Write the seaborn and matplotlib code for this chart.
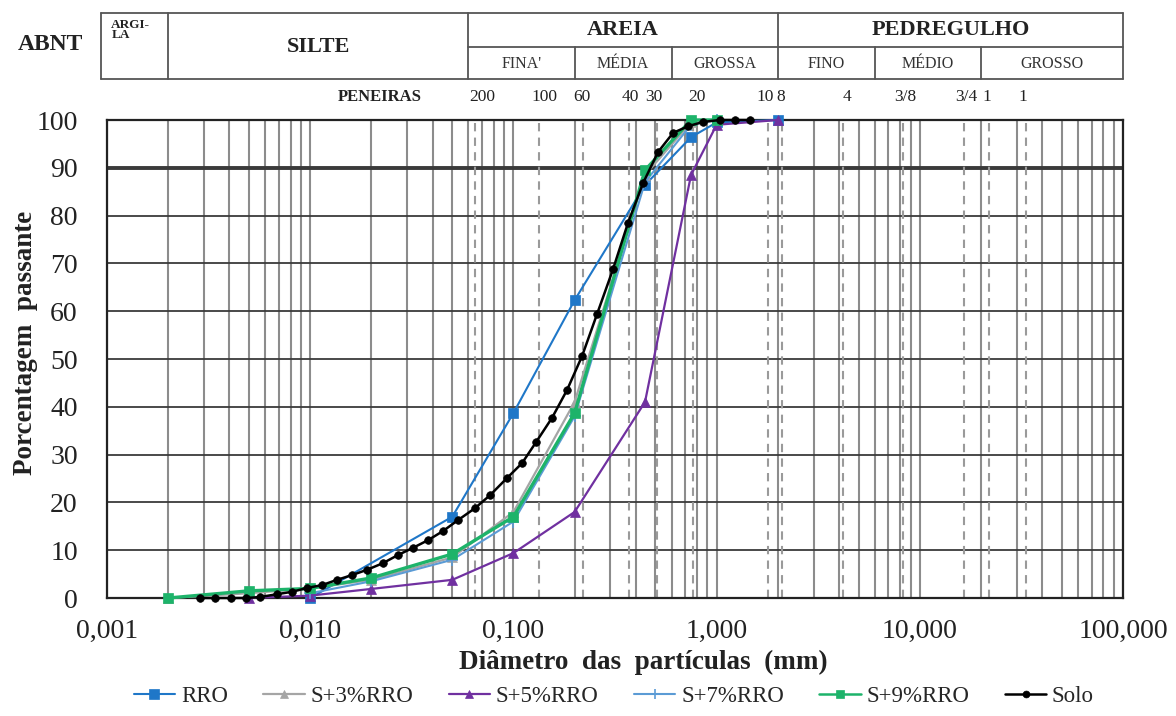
import numpy as np
import pandas as pd
import matplotlib
matplotlib.use("Agg")
import matplotlib.pyplot as plt
import seaborn as sns
from matplotlib.transforms import blended_transform_factory
from matplotlib.ticker import FixedLocator, FuncFormatter, LogLocator, NullFormatter
from matplotlib.lines import Line2D

# ---------------- data ----------------
series_names = ["RRO", "S+3%RRO", "S+5%RRO", "S+7%RRO", "S+9%RRO", "Solo"]

rro_d = [0.01, 0.05, 0.1, 0.2, 0.444, 0.748, 1.0, 2.0]
rro_p = [0, 17.0, 38.7, 62.3, 86.4, 96.4, 99.5, 100]

s3_d = [0.002, 0.005, 0.01, 0.02, 0.05, 0.1, 0.2, 0.444, 0.748, 1.0]
s3_p = [0, 1.0, 2.0, 3.8, 8.5, 18.0, 41.0, 88.5, 99.5, 100]

s5_d = [0.005, 0.01, 0.02, 0.05, 0.1, 0.2, 0.444, 0.748, 1.0, 2.0]
s5_p = [0, 0.5, 1.9, 3.8, 9.4, 18.0, 41.0, 88.5, 99.0, 100]

s7_d = [0.01, 0.02, 0.05, 0.1, 0.2, 0.444, 0.748, 1.0]
s7_p = [1.0, 3.5, 8.0, 16.0, 38.0, 87.0, 99.0, 100]

s9_d = [0.002, 0.005, 0.01, 0.02, 0.05, 0.1, 0.2, 0.444, 0.748, 1.0]
s9_p = [0, 1.5, 2.0, 4.2, 9.2, 17.0, 38.7, 89.5, 100, 100]

solo_d = [0.00287, 0.0034, 0.00408, 0.00483, 0.00566, 0.00687, 0.00814, 0.00964,
          0.01143, 0.01355, 0.01606, 0.01904, 0.02282, 0.02705, 0.03206, 0.0380,
          0.0450, 0.0534, 0.0647, 0.0767, 0.0930, 0.1102, 0.1292, 0.1549, 0.1835,
          0.2176, 0.2579, 0.3092, 0.3664, 0.4343, 0.5148, 0.6101, 0.7233, 0.8575,
          1.039, 1.232, 1.46]
solo_p = [0, 0, 0, 0, 0.2, 0.8, 1.3, 2.1, 2.7, 3.8, 4.8, 5.9, 7.3, 9.0, 10.5, 12.1,
          14.0, 16.3, 18.8, 21.5, 25.1, 28.2, 32.6, 37.7, 43.5, 50.6, 59.4, 68.8,
          78.5, 86.8, 93.3, 97.3, 98.7, 99.6, 100, 100, 100]

# sieve reference lines (mm, as drawn) and their labels
sieve_lines = [0.065, 0.133, 0.219, 0.369, 0.511, 0.762, 1.78, 2.09, 4.18, 8.25, 16.5, 21.9, 33.3]
sieve_labels = ["200", "100", "60", "40", "30", "20", "10", "8", "4", "3/8", "3/4", "1", "1"]
sieve_label_pos = [0.0701, 0.1415, 0.2176, 0.3748, 0.492, 0.801, 1.73, 2.075, 4.385, 8.46, 16.9, 21.4, 32.2]

# ABNT classification bounds (mm)
class_bounds = [0.002, 0.06, 0.2, 0.6, 2.0, 6.0, 20.0, 100.0]
sub_labels = ["FINA'", "MÉDIA", "GROSSA", "FINO", "MÉDIO", "GROSSO"]

x_ticks = [0.001, 0.01, 0.1, 1, 10, 100]
y_ticks = list(range(0, 101, 10))

# ---------------- style ----------------
sns.set_theme(style="white")
plt.rcParams["font.family"] = ["Liberation Serif", "DejaVu Serif"]

colors = {"RRO": "#1f77c8", "S+3%RRO": "#a5a5a5", "S+5%RRO": "#7030a0",
          "S+7%RRO": "#5b9bd5", "S+9%RRO": "#1db36a", "Solo": "#000000"}
markers = {"RRO": "s", "S+3%RRO": "^", "S+5%RRO": "^", "S+7%RRO": "+",
           "S+9%RRO": "s", "Solo": "o"}
msizes = {"RRO": 7.5, "S+3%RRO": 6.5, "S+5%RRO": 7, "S+7%RRO": 8,
          "S+9%RRO": 6.5, "Solo": 5.5}
lwidths = {"RRO": 1.5, "S+3%RRO": 1.6, "S+5%RRO": 1.6, "S+7%RRO": 1.5,
           "S+9%RRO": 2.4, "Solo": 1.8}

frames = []
for name, d, p in [("RRO", rro_d, rro_p), ("S+3%RRO", s3_d, s3_p), ("S+5%RRO", s5_d, s5_p),
                   ("S+7%RRO", s7_d, s7_p), ("S+9%RRO", s9_d, s9_p), ("Solo", solo_d, solo_p)]:
    frames.append(pd.DataFrame({"serie": name, "d": d, "p": p}))
df = pd.concat(frames, ignore_index=True)

fig = plt.figure(figsize=(11.76, 7.16), dpi=100)
ax = fig.add_axes([0.091, 0.1648, 0.864, 0.6676])
ax.set_xscale("log")
ax.set_xlim(0.001, 100)
ax.set_ylim(0, 100)

# grid
ax.xaxis.set_major_locator(FixedLocator(x_ticks))
ax.xaxis.set_minor_locator(LogLocator(base=10, subs=np.arange(2, 10)))
ax.xaxis.set_minor_formatter(NullFormatter())
ax.xaxis.set_major_formatter(FuncFormatter(lambda v, _: f"{v:.3f}".replace(".", ",")))
ax.yaxis.set_major_locator(FixedLocator(y_ticks))
ax.grid(True, which="major", axis="y", color="#3a3a3a", lw=1.3, zorder=1)
ax.grid(True, which="both", axis="x", color="#8c8c8c", lw=1.5, zorder=1)
ax.axhline(90, color="#3a3a3a", lw=2.8, zorder=1)
for s in sieve_lines:
    ax.axvline(s, color="#9a9a9a", lw=1.5, ls=(0, (4, 3)), zorder=1)
ax.set_axisbelow(True)

for name in series_names:
    sub = df[df["serie"] == name]
    sns.lineplot(data=sub, x="d", y="p", ax=ax, color=colors[name], marker=markers[name],
                 markersize=msizes[name], lw=lwidths[name], markeredgewidth=1.2 if name == "S+7%RRO" else 0.5,
                 markeredgecolor=colors[name], sort=False, estimator=None, legend=False,
                 clip_on=False, zorder=3 if name != "Solo" else 4)

ax.set_xlabel("")
ax.set_ylabel("")
for sp in ax.spines.values():
    sp.set_color("#222222")
    sp.set_linewidth(1.6)
ax.tick_params(axis="both", which="both", length=0, labelsize=20, colors="#222222")
ax.tick_params(axis="x", pad=15)
ax.tick_params(axis="y", pad=21)

fig.text(0.547, 0.075, "Diâmetro  das  partículas  (mm)", ha="center", va="center",
         fontsize=19.5, fontweight="bold", color="#222222")
fig.text(0.022, 0.521, "Porcentagem  passante", ha="center", va="center", rotation=90,
         fontsize=19.5, fontweight="bold", color="#222222")

# legend
handles = [Line2D([0], [0], color=colors[n], marker=markers[n], markersize=msizes[n] * 0.9,
                  lw=lwidths[n] if n != "S+9%RRO" else 1.8, markeredgecolor=colors[n],
                  markeredgewidth=1.2 if n == "S+7%RRO" else 0.5) for n in series_names]
fig.legend(handles, series_names, loc="center", bbox_to_anchor=(0.522, 0.027), ncol=6,
           frameon=False, fontsize=16.5, handlelength=1.8, handletextpad=0.25, columnspacing=1.55)

# ---------------- header table ----------------
tr = blended_transform_factory(ax.transData, ax.transAxes)
ta = ax.transAxes
y_top, y_mid, y_bot = 1.224, 1.153, 1.086
x_left = -0.006
lc = "#555555"
lw_t = 1.3
ax.plot([x_left, 1.0], [y_top, y_top], transform=ta, color=lc, lw=lw_t, clip_on=False)
ax.plot([x_left, 1.0], [y_bot, y_bot], transform=ta, color=lc, lw=lw_t, clip_on=False)
ax.plot([x_left, x_left], [y_bot, y_top], transform=ta, color=lc, lw=lw_t, clip_on=False)
ax.plot([1.0, 1.0], [y_bot, y_top], transform=ta, color=lc, lw=lw_t, clip_on=False)
ax.plot([class_bounds[1], class_bounds[-1]], [y_mid, y_mid], transform=tr, color=lc, lw=lw_t, clip_on=False)
for b in [class_bounds[0], class_bounds[1], class_bounds[4]]:
    ax.plot([b, b], [y_bot, y_top], transform=tr, color=lc, lw=lw_t, clip_on=False)
for b in [class_bounds[2], class_bounds[3], class_bounds[5], class_bounds[6]]:
    ax.plot([b, b], [y_bot, y_mid], transform=tr, color=lc, lw=lw_t, clip_on=False)

def gmid(a, b):
    return np.sqrt(a * b)

ax.text(-0.056, 1.157, "ABNT", transform=ta, ha="center", va="center", fontsize=17,
        fontweight="bold", color="#222222")
ax.text(0.00105, 1.212, "ARGI-\nLA", transform=tr, ha="left", va="top", fontsize=9.5,
        fontweight="bold", color="#222222", linespacing=0.85)
ax.text(gmid(class_bounds[0], class_bounds[1]), 1.153, "SILTE", transform=tr, ha="center",
        va="center", fontsize=16, fontweight="bold", color="#222222")
ax.text(gmid(class_bounds[1], class_bounds[4]), 1.188, "AREIA", transform=tr, ha="center",
        va="center", fontsize=16, fontweight="bold", color="#222222")
ax.text(gmid(class_bounds[4], class_bounds[7]), 1.188, "PEDREGULHO", transform=tr, ha="center",
        va="center", fontsize=16, fontweight="bold", color="#222222")
for i, lab in enumerate(sub_labels):
    a, b = class_bounds[i + 1], class_bounds[i + 2]
    ax.text(gmid(a, b), 1.118, lab, transform=tr, ha="center", va="center", fontsize=11.5,
            color="#333333")

ax.text(0.268, 1.048, "PENEIRAS", transform=ta, ha="center", va="center", fontsize=12,
        fontweight="bold", color="#222222")
for pos, lab in zip(sieve_label_pos, sieve_labels):
    ax.text(pos, 1.048, lab, transform=tr, ha="center", va="center", fontsize=12.5,
            color="#222222")

fig.savefig("out.png", dpi=100, facecolor="white")
